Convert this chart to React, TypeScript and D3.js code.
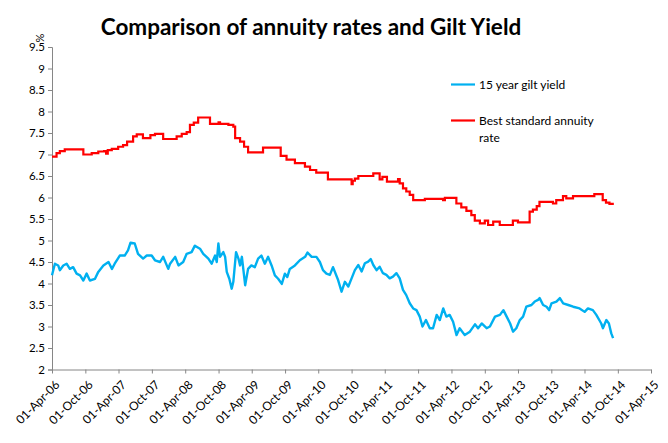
import { useEffect, useRef } from 'react'
import * as d3 from 'd3'

// 15 year gilt yield (%)
const giltDates = [
    '2006-04-01', '2006-04-17', '2006-05-05', '2006-05-14', '2006-06-02', '2006-06-20', '2006-07-08', '2006-07-26',
    '2006-08-14', '2006-09-02', '2006-09-20', '2006-10-08', '2006-10-26', '2006-11-23', '2006-12-11', '2007-01-08',
    '2007-02-05', '2007-02-24', '2007-03-11', '2007-04-08', '2007-05-05', '2007-05-23', '2007-06-06', '2007-06-29',
    '2007-07-17', '2007-08-14', '2007-09-03', '2007-09-30', '2007-10-18', '2007-11-15', '2007-12-02', '2007-12-30',
    '2008-01-09', '2008-02-06', '2008-02-24', '2008-03-21', '2008-04-09', '2008-05-06', '2008-05-24', '2008-06-21',
    '2008-07-09', '2008-08-06', '2008-08-24', '2008-09-12', '2008-09-21', '2008-09-30', '2008-10-09', '2008-10-27',
    '2008-11-06', '2008-11-15', '2008-11-29', '2008-12-12', '2008-12-21', '2009-01-05', '2009-01-18', '2009-01-27',
    '2009-02-06', '2009-02-24', '2009-03-12', '2009-03-30', '2009-04-18', '2009-05-06', '2009-05-24', '2009-06-12',
    '2009-06-30', '2009-07-19', '2009-08-06', '2009-08-24', '2009-09-13', '2009-09-30', '2009-10-13', '2009-10-27',
    '2009-11-24', '2009-12-21', '2010-01-19', '2010-02-01', '2010-02-24', '2010-03-22', '2010-04-10', '2010-04-27',
    '2010-05-16', '2010-06-04', '2010-06-21', '2010-07-19', '2010-08-07', '2010-08-25', '2010-09-13', '2010-10-01',
    '2010-10-19', '2010-11-07', '2010-11-25', '2010-12-13', '2010-12-31', '2011-01-14', '2011-01-28', '2011-02-15',
    '2011-03-04', '2011-03-22', '2011-04-10', '2011-04-28', '2011-05-16', '2011-06-04', '2011-06-22', '2011-07-10',
    '2011-07-28', '2011-08-16', '2011-09-04', '2011-09-22', '2011-10-10', '2011-10-25', '2011-11-13', '2011-12-04',
    '2011-12-22', '2012-01-11', '2012-01-28', '2012-02-16', '2012-03-04', '2012-03-22', '2012-04-10', '2012-04-29',
    '2012-05-16', '2012-06-13', '2012-07-11', '2012-08-08', '2012-08-25', '2012-09-14', '2012-10-11', '2012-10-29',
    '2012-11-26', '2012-12-23', '2013-01-11', '2013-01-29', '2013-02-17', '2013-03-05', '2013-03-23', '2013-04-11',
    '2013-04-29', '2013-05-17', '2013-06-14', '2013-07-02', '2013-07-20', '2013-07-29', '2013-08-17', '2013-09-05',
    '2013-09-19', '2013-10-02', '2013-10-29', '2013-11-17', '2013-12-05', '2014-01-02', '2014-01-29', '2014-03-05',
    '2014-04-02', '2014-04-20', '2014-05-17', '2014-06-05', '2014-07-02', '2014-07-11', '2014-07-30', '2014-08-13',
    '2014-08-26', '2014-09-05'
]
const giltValues = [
    4.19, 4.46, 4.42, 4.31, 4.42, 4.46, 4.34, 4.38,
    4.23, 4.19, 4.07, 4.23, 4.07, 4.11, 4.27, 4.42,
    4.50, 4.34, 4.46, 4.65, 4.65, 4.77, 4.95, 4.93,
    4.69, 4.58, 4.65, 4.65, 4.54, 4.50, 4.62, 4.34,
    4.46, 4.62, 4.42, 4.50, 4.69, 4.73, 4.88, 4.81,
    4.69, 4.58, 4.46, 4.65, 4.50, 4.93, 4.62, 4.73,
    4.62, 4.27, 4.11, 3.88, 4.04, 4.73, 4.58, 4.42,
    4.62, 3.96, 4.34, 4.42, 4.38, 4.58, 4.65, 4.46,
    4.62, 4.42, 4.19, 4.11, 3.99, 4.23, 4.15, 4.34,
    4.42, 4.54, 4.62, 4.72, 4.62, 4.62, 4.50, 4.31,
    4.23, 4.20, 4.38, 4.08, 3.81, 4.04, 3.93, 4.12,
    4.31, 4.43, 4.28, 4.47, 4.51, 4.57, 4.43, 4.31,
    4.39, 4.24, 4.20, 4.12, 4.16, 4.24, 4.12, 3.85,
    3.73, 3.54, 3.42, 3.38, 3.23, 3.00, 3.15, 2.96,
    2.96, 3.27, 3.15, 3.42, 3.23, 3.27, 3.11, 2.80,
    2.96, 2.80, 2.88, 3.05, 2.96, 3.07, 2.96, 3.00,
    3.23, 3.27, 3.38, 3.23, 3.07, 2.88, 2.96, 3.15,
    3.23, 3.46, 3.50, 3.58, 3.62, 3.66, 3.50, 3.46,
    3.38, 3.54, 3.58, 3.66, 3.54, 3.50, 3.46, 3.42,
    3.34, 3.42, 3.38, 3.27, 3.07, 2.96, 3.15, 3.07,
    2.84, 2.73
]

// Best standard annuity rate (%), step changes
const annuityDates = [
    '2006-04-01', '2006-04-26', '2006-05-14', '2006-06-10', '2006-09-20', '2006-11-05', '2006-12-11', '2007-01-12',
    '2007-01-23', '2007-02-01', '2007-02-23', '2007-03-30', '2007-04-26', '2007-05-18', '2007-06-20', '2007-07-10',
    '2007-08-13', '2007-09-23', '2007-10-18', '2007-12-02', '2008-02-14', '2008-03-13', '2008-04-09', '2008-04-27',
    '2008-05-18', '2008-06-11', '2008-08-15', '2008-10-01', '2008-10-09', '2008-11-24', '2008-12-21', '2008-12-31',
    '2009-01-27', '2009-02-18', '2009-03-12', '2009-06-02', '2009-09-07', '2009-10-09', '2009-11-24', '2010-01-18',
    '2010-02-15', '2010-03-21', '2010-05-24', '2010-10-01', '2010-10-07', '2010-10-19', '2010-11-07', '2011-01-28',
    '2011-03-04', '2011-03-19', '2011-04-13', '2011-06-13', '2011-06-22', '2011-07-10', '2011-07-28', '2011-08-16',
    '2011-09-04', '2011-11-07', '2012-02-15', '2012-02-25', '2012-04-28', '2012-05-25', '2012-06-22', '2012-07-19',
    '2012-08-07', '2012-09-04', '2012-10-01', '2012-10-19', '2012-11-16', '2012-12-22', '2013-03-04', '2013-04-01',
    '2013-06-04', '2013-06-22', '2013-07-13', '2013-07-28', '2013-10-10', '2013-10-28', '2013-12-04', '2013-12-22',
    '2014-01-28', '2014-05-25', '2014-07-10', '2014-07-28', '2014-08-16', '2014-09-09'
]
const annuityValues = [
    6.95, 7.03, 7.08, 7.12, 7.00, 7.03, 7.07, 7.08,
    7.02, 7.10, 7.13, 7.18, 7.22, 7.30, 7.42, 7.47,
    7.38, 7.45, 7.48, 7.36, 7.42, 7.48, 7.52, 7.69,
    7.74, 7.86, 7.71, 7.75, 7.71, 7.69, 7.65, 7.38,
    7.30, 7.18, 7.05, 7.16, 6.97, 6.88, 6.80, 6.72,
    6.64, 6.58, 6.42, 6.31, 6.39, 6.44, 6.50, 6.56,
    6.42, 6.48, 6.37, 6.43, 6.33, 6.21, 6.14, 6.06,
    5.94, 5.97, 5.94, 5.99, 5.86, 5.77, 5.69, 5.59,
    5.46, 5.40, 5.46, 5.36, 5.44, 5.36, 5.46, 5.42,
    5.67, 5.72, 5.80, 5.90, 5.86, 5.94, 6.03, 5.98,
    6.03, 6.08, 5.94, 5.88, 5.85, 5.85
]

const yTicks = [2, 2.5, 3, 3.5, 4, 4.5, 5, 5.5, 6, 6.5, 7, 7.5, 8, 8.5, 9, 9.5]

const seriesNames = ['15 year gilt yield', 'Best standard annuity rate']
const seriesColors = ['#00B0F0', '#FF0000']

const parse = d3.timeParse('%Y-%m-%d')

export default function App() {
    const svgRef = useRef<SVGSVGElement>(null)
    const width = 668
    const height = 443

    useEffect(() => {
        if (!svgRef.current) return
        const svg = d3.select(svgRef.current)
        svg.selectAll('*').remove()

        const font = 'Lato, "Open Sans", sans-serif'
        const left = 52, right = 651, top = 47, bottom = 369.5

        const x = d3.scaleTime()
            .domain([new Date(2006, 3, 1), new Date(2015, 3, 1)])
            .range([left, right])
        const y = d3.scaleLinear().domain([2, 9.5]).range([bottom, top])

        // Title
        svg.append('text')
            .attr('x', 311)
            .attr('y', 35)
            .attr('text-anchor', 'middle')
            .style('font-family', font)
            .style('font-weight', 'bold')
            .style('font-size', '22.5px')
            .text('Comparison of annuity rates and Gilt Yield')

        // Y axis
        const yAxis = svg.append('g')
            .attr('transform', `translate(${left},0)`)
            .call(d3.axisLeft(y).tickValues(yTicks).tickSize(4).tickPadding(3).tickFormat(d => `${d}`))
        yAxis.select('.domain').attr('stroke', '#868686')
        yAxis.selectAll('.tick line').attr('stroke', '#868686')
        yAxis.selectAll('.tick text')
            .style('font-family', font)
            .style('font-size', '11.5px')
            .attr('fill', '#000')

        svg.append('text')
            .attr('transform', 'translate(44,38) rotate(-90)')
            .attr('text-anchor', 'middle')
            .style('font-family', font)
            .style('font-size', '11px')
            .text('%')

        // X axis
        const xTicks = d3.range(0, 19).map(i => d3.timeMonth.offset(new Date(2006, 3, 1), i * 6))
        const xAxis = svg.append('g')
            .attr('transform', `translate(0,${bottom})`)
            .call(d3.axisBottom(x).tickValues(xTicks).tickSize(4).tickSizeOuter(0)
                .tickFormat(d => d3.timeFormat('%d-%b-%y')(d as Date)))
        xAxis.select('.domain').attr('stroke', '#868686')
        xAxis.selectAll('.tick line').attr('stroke', '#868686')
        xAxis.selectAll('.tick text')
            .style('font-family', font)
            .style('font-size', '12px')
            .attr('fill', '#000')
            .attr('text-anchor', 'end')
            .attr('dy', '0')
            .attr('transform', 'translate(3,11) rotate(-45)')

        // Lines
        const gilt = giltDates.map((d, i) => ({ date: parse(d) as Date, value: giltValues[i] }))
        const annuity = annuityDates.map((d, i) => ({ date: parse(d) as Date, value: annuityValues[i] }))

        const giltLine = d3.line<{ date: Date; value: number }>()
            .x(d => x(d.date))
            .y(d => y(d.value))
        const annuityLine = d3.line<{ date: Date; value: number }>()
            .x(d => x(d.date))
            .y(d => y(d.value))
            .curve(d3.curveStepAfter)

        svg.append('path')
            .datum(gilt)
            .attr('d', giltLine)
            .attr('fill', 'none')
            .attr('stroke', seriesColors[0])
            .attr('stroke-width', 2.4)
            .attr('stroke-linejoin', 'round')

        svg.append('path')
            .datum(annuity)
            .attr('d', annuityLine)
            .attr('fill', 'none')
            .attr('stroke', seriesColors[1])
            .attr('stroke-width', 2.2)

        // Legend
        const legend = svg.append('g')
        const legendY = [84.5, 120.5]
        seriesNames.forEach((name, i) => {
            legend.append('line')
                .attr('x1', 451).attr('x2', 475)
                .attr('y1', legendY[i]).attr('y2', legendY[i])
                .attr('stroke', seriesColors[i])
                .attr('stroke-width', 2.2)
            const lines = i === 1 ? ['Best standard annuity', 'rate'] : [name]
            lines.forEach((t, j) => {
                legend.append('text')
                    .attr('x', 479)
                    .attr('y', legendY[i] + 4 + j * 17)
                    .style('font-family', font)
                    .style('font-size', '12px')
                    .attr('fill', '#000')
                    .text(t)
            })
        })
    }, [])

    return (
        <div style={{ position: 'absolute', left: 0, top: 0 }}>
            <svg ref={svgRef} width={width} height={height} style={{ display: 'block', background: '#fff' }}></svg>
        </div>
    )
}
